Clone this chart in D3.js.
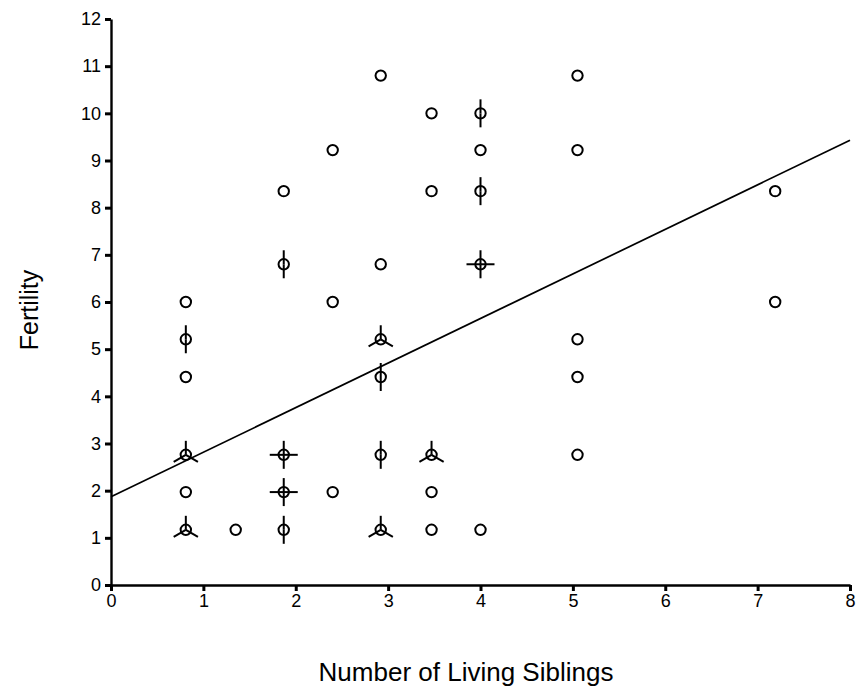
<!DOCTYPE html>
<html>
<head>
<meta charset="utf-8">
<script src="https://d3js.org/d3.v7.min.js"></script>
<style>
  body { margin: 0; background: #fff; }
  text { font-family: "Liberation Sans", Arial, sans-serif; fill: #000; }
  .axis path, .axis line { stroke: #000; }
</style>
</head>
<body>
<svg width="865" height="695"></svg>
<script>
// sunflower plot: each point = (siblings, fertility), count = number of petals
var siblings  = [0.81, 0.81, 0.81, 0.81, 0.81, 0.81,
                 1.35,
                 1.87, 1.87, 1.87, 1.87, 1.87,
                 2.40, 2.40, 2.40,
                 2.92, 2.92, 2.92, 2.92, 2.92, 2.92,
                 3.47, 3.47, 3.47, 3.47, 3.47,
                 4.00, 4.00, 4.00, 4.00, 4.00,
                 5.05, 5.05, 5.05, 5.05, 5.05,
                 7.19, 7.19];
var fertility = [6.00, 5.21, 4.41, 2.76, 1.97, 1.17,
                 1.17,
                 8.35, 6.80, 2.76, 1.97, 1.17,
                 9.22, 6.00, 1.97,
                 10.80, 6.80, 5.21, 4.41, 2.76, 1.17,
                 10.00, 8.35, 2.76, 1.97, 1.17,
                 10.00, 9.22, 8.35, 6.80, 1.17,
                 10.80, 9.22, 5.21, 4.41, 2.76,
                 8.35, 6.00];
var counts    = [1, 2, 1, 3, 1, 3,
                 1,
                 1, 2, 4, 4, 2,
                 1, 1, 1,
                 1, 1, 3, 2, 2, 3,
                 1, 1, 3, 1, 1,
                 2, 1, 2, 4, 1,
                 1, 1, 1, 1, 1,
                 1, 1];
var xTicks = [0, 1, 2, 3, 4, 5, 6, 7, 8];
var yTicks = [0, 1, 2, 3, 4, 5, 6, 7, 8, 9, 10, 11, 12];
// fitted regression line
var intercept = 1.87, slope = 0.945;

var svg = d3.select("svg"),
    margin = {top: 19, right: 15, bottom: 110, left: 111},
    width = +svg.attr("width") - margin.left - margin.right,
    height = +svg.attr("height") - margin.top - margin.bottom,
    g = svg.append("g").attr("transform", "translate(" + margin.left + "," + margin.top + ")");

var x = d3.scaleLinear().domain([0, 8]).range([0, width]);
var y = d3.scaleLinear().domain([0, 12]).range([height, 0]);

var xAxis = g.append("g")
    .attr("class", "axis")
    .attr("transform", "translate(0," + height + ")")
    .call(d3.axisBottom(x).tickValues(xTicks).tickSize(6).tickSizeOuter(0).tickPadding(3));

var yAxis = g.append("g")
    .attr("class", "axis")
    .call(d3.axisLeft(y).tickValues(yTicks).tickSize(6).tickSizeOuter(0).tickPadding(4));

[xAxis, yAxis].forEach(function (a) {
  a.select(".domain").attr("stroke-width", 2.4);
  a.selectAll(".tick line").attr("stroke-width", 3);
  a.selectAll(".tick text").style("font-size", "18px").attr("fill", "#000");
});

// regression line
g.append("line")
    .attr("x1", x(0)).attr("y1", y(intercept))
    .attr("x2", x(8)).attr("y2", y(intercept + slope * 8))
    .attr("stroke", "#000")
    .attr("stroke-width", 1.7);

var data = siblings.map(function (d, i) {
  return {x: d, y: fertility[i], n: counts[i]};
});

var petalLen = 14;
var pts = g.selectAll(".pt")
    .data(data)
    .enter().append("g")
    .attr("class", "pt")
    .attr("transform", function (d) { return "translate(" + x(d.x) + "," + y(d.y) + ")"; });

pts.append("circle")
    .attr("r", 5.2)
    .attr("fill", "none")
    .attr("stroke", "#000")
    .attr("stroke-width", 2);

pts.each(function (d) {
  if (d.n < 2) return;
  var sel = d3.select(this);
  for (var k = 0; k < d.n; k++) {
    var a = -Math.PI / 2 + k * 2 * Math.PI / d.n;
    sel.append("line")
      .attr("x1", 0).attr("y1", 0)
      .attr("x2", petalLen * Math.cos(a))
      .attr("y2", petalLen * Math.sin(a))
      .attr("stroke", "#000")
      .attr("stroke-width", 2);
  }
});

svg.append("text")
    .attr("transform", "translate(38,310) rotate(-90)")
    .attr("text-anchor", "middle")
    .style("font-size", "25px")
    .text("Fertility");

svg.append("text")
    .attr("x", 466)
    .attr("y", 681)
    .attr("text-anchor", "middle")
    .style("font-size", "26px")
    .text("Number of Living Siblings");
</script>
</body>
</html>
